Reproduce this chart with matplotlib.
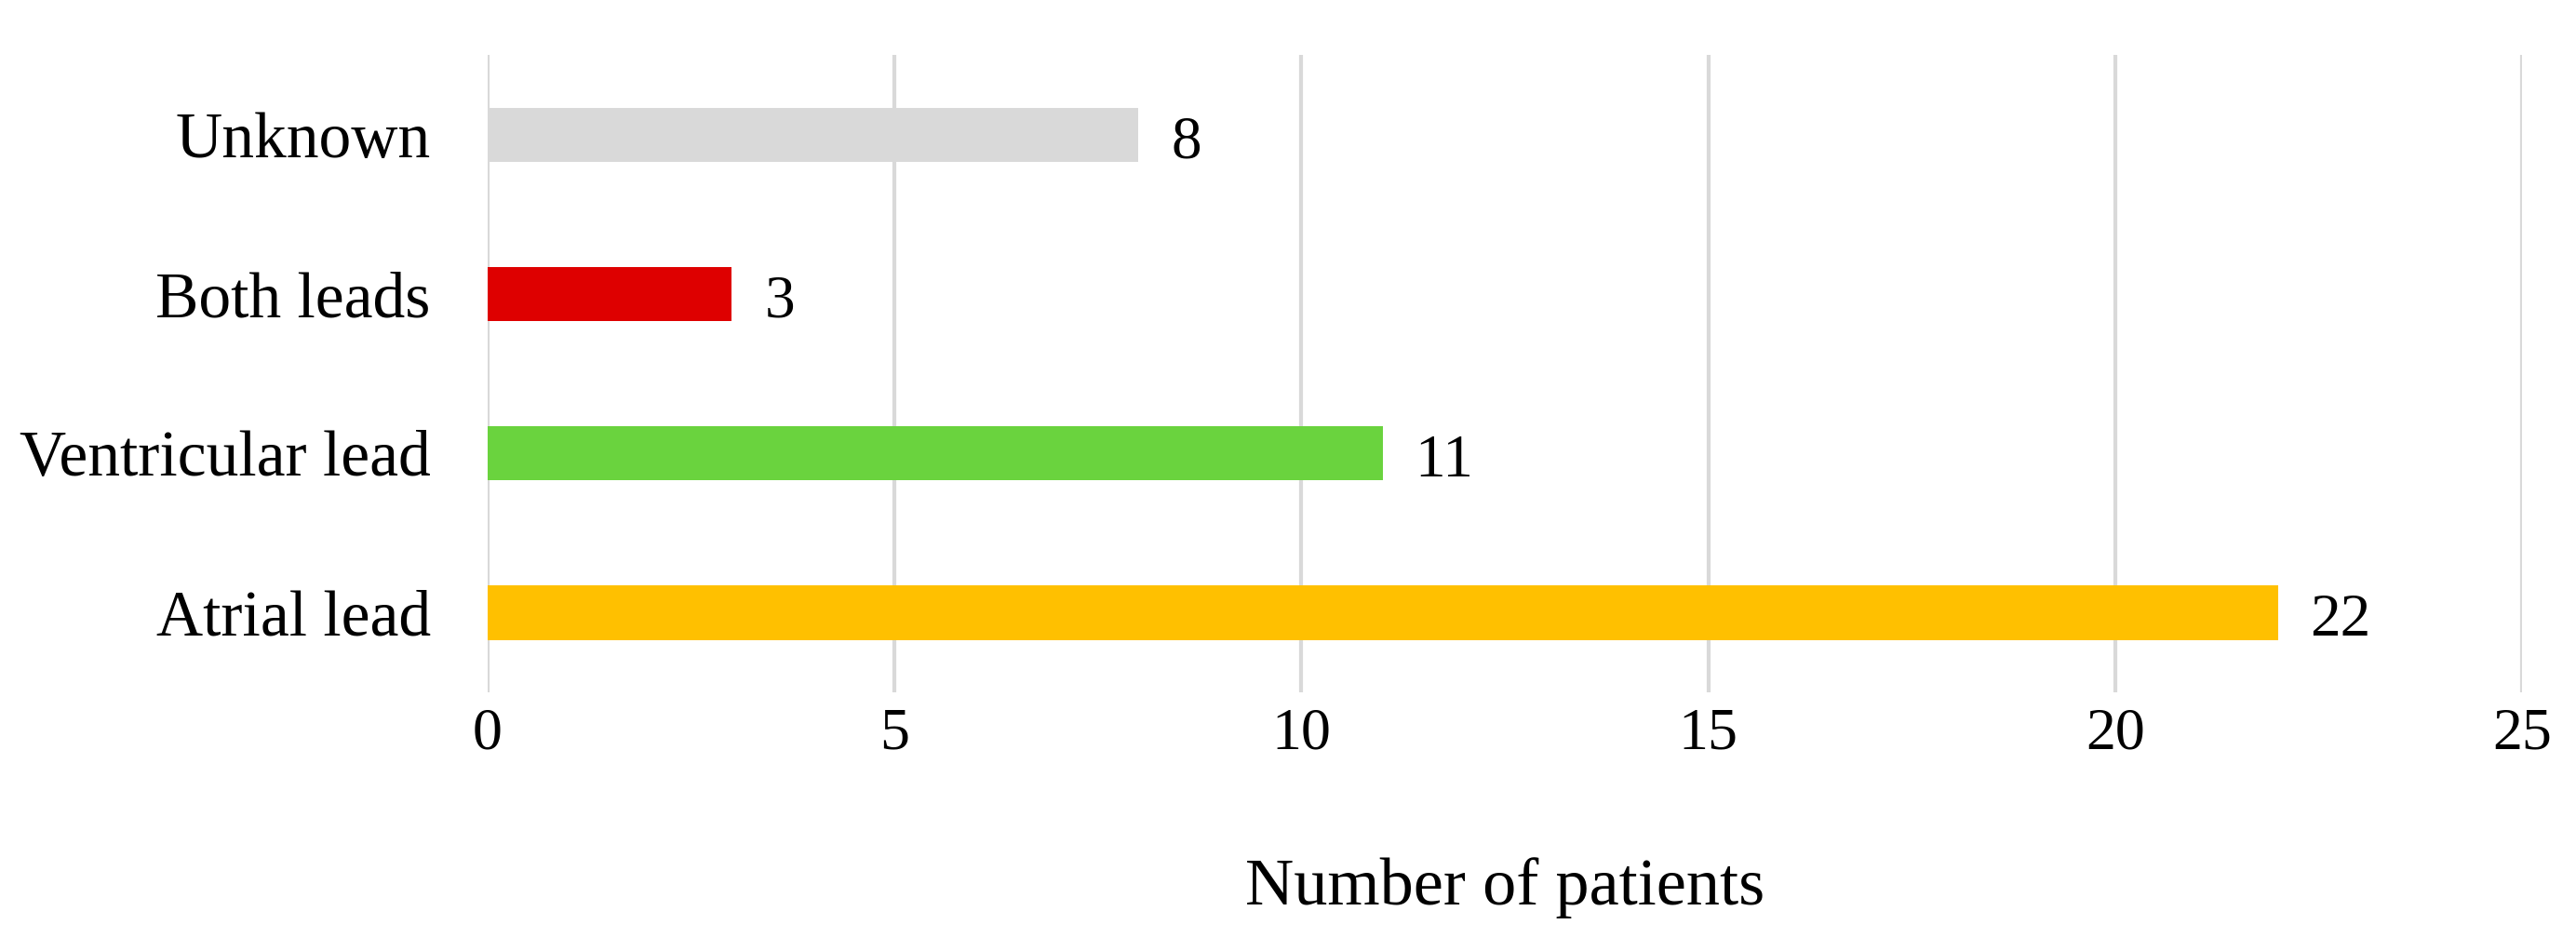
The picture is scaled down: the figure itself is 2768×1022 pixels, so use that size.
import matplotlib
matplotlib.use('Agg')
import matplotlib.pyplot as plt

# data
categories = ['Atrial lead', 'Ventricular lead', 'Both leads', 'Unknown']
patients = [22, 11, 3, 8]
bar_colors = ['#FFC000', '#6AD33E', '#DE0000', '#D9D9D9']

plt.rcParams['font.family'] = ['Liberation Serif', 'DejaVu Serif']

fig = plt.figure(figsize=(27.68, 10.22), dpi=100)
ax = fig.add_axes([0.1893, 0.272, 0.7897, 0.67])

ypos = range(len(categories))
ax.barh(ypos, patients, height=0.34, color=bar_colors, zorder=3)
for y, v in zip(ypos, patients):
    ax.text(v + 0.4, y - 0.05, str(v), va='center', ha='left', fontsize=47)

ax.set_xlim(0, 25)
ax.set_ylim(-0.5, len(categories) - 0.5)
ax.set_xticks(range(0, 26, 5))
ax.set_yticks(list(ypos))
ax.set_yticklabels(categories)
ax.tick_params(axis='x', length=0, labelsize=46, pad=12)
ax.tick_params(axis='y', length=0, labelsize=50, pad=44)
ax.grid(axis='x', color='#D9D9D9', linewidth=3, zorder=0)
for s in ax.spines.values():
    s.set_visible(False)
ax.set_xlabel('Number of patients', fontsize=52, labelpad=74)

fig.savefig('out.png', dpi=100)
